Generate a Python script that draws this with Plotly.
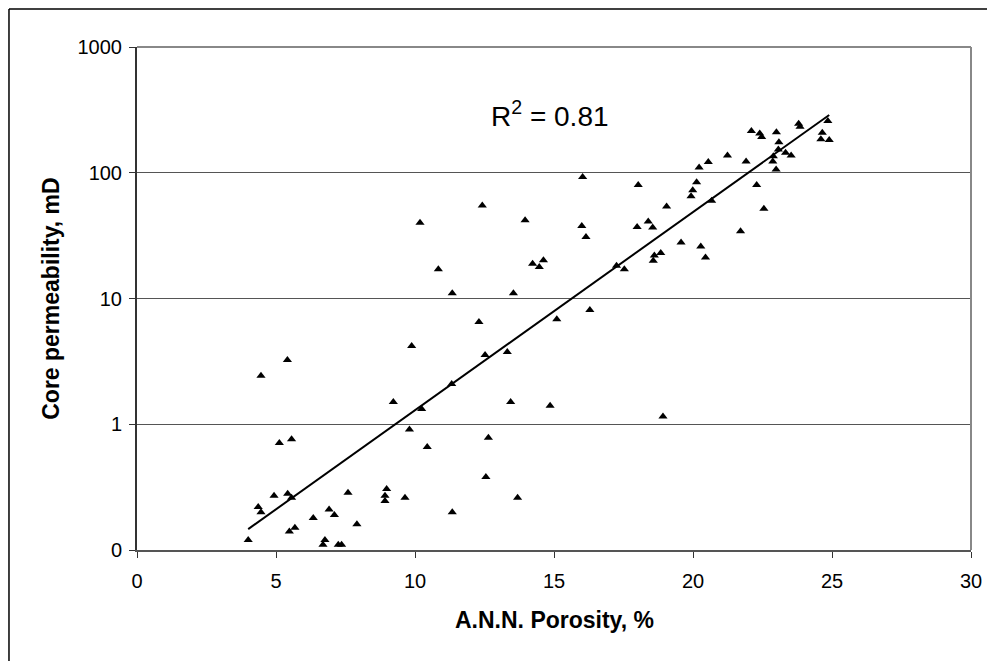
import numpy as np
import plotly.graph_objects as go

# A.N.N. porosity (%) and core permeability (mD)
porosity = [
    5.12, 5.56, 4.93, 5.42, 5.56, 4.36, 4.46, 4.00, 6.34, 5.48, 5.68, 6.76, 6.69,
    9.22, 10.24, 11.32, 13.44, 9.80, 10.44, 12.64, 12.55, 13.69, 7.59, 8.98, 8.92,
    8.92, 9.64, 11.34, 6.91, 7.10, 7.91, 7.24, 7.36,
    10.18, 9.88, 5.41, 4.46,
    16.03, 18.03, 12.42, 13.96, 16.00, 16.15, 17.99, 18.39, 18.55, 10.84, 14.23,
    14.47, 14.62, 17.25, 17.53, 11.34, 13.54, 16.29, 12.30, 15.10, 12.52, 13.32, 14.86,
    23.09, 24.60, 24.90, 23.07, 23.33, 23.53, 22.89, 22.87, 22.99, 20.22, 20.55,
    21.24, 21.91, 20.13, 19.99, 19.93, 22.29, 20.67, 19.05, 22.55, 21.71, 19.57,
    20.28, 18.84, 18.61, 18.57, 20.45,
    22.10, 22.40, 22.47, 23.00, 23.80, 23.85, 24.65, 24.85,
    18.92,
]
permeability = [
    0.71, 0.76, 0.27, 0.28, 0.26, 0.22, 0.20, 0.12, 0.18, 0.14, 0.15, 0.12, 0.11,
    1.50, 1.32, 2.09, 1.50, 0.91, 0.66, 0.78, 0.38, 0.26, 0.285, 0.305, 0.27,
    0.245, 0.26, 0.20, 0.21, 0.19, 0.16, 0.11, 0.11,
    40.0, 4.2, 3.25, 2.43,
    92.6, 80.0, 55.0, 42.0, 37.7, 30.9, 37.0, 41.0, 36.7, 17.1, 18.9,
    17.8, 20.1, 18.2, 17.1, 11.0, 11.0, 8.1, 6.5, 6.85, 3.56, 3.75, 1.40,
    175, 185, 182, 153, 144, 137, 135, 123, 106, 110, 122,
    137, 123, 84, 72.5, 65, 80, 60, 54, 51.8, 34.2, 27.9,
    25.9, 23.0, 22.0, 20.0, 21.2,
    215, 205, 192, 210, 245, 232, 208, 258,
    1.15,
]

x_ticks = [0, 5, 10, 15, 20, 25, 30]
y_tickvals = [0.1, 1, 10, 100, 1000]
y_ticktext = ["0", "1", "10", "100", "1000"]
r2_label = "R<sup>2</sup> = 0.81"
x_title = "<b>A.N.N. Porosity, %</b>"
y_title = "<b>Core permeability, mD</b>"

px = np.array(porosity)
py = np.array(permeability)
slope, intercept = np.polyfit(px, np.log10(py), 1)
trend_x = np.array([px.min(), px.max()])
trend_y = 10 ** (slope * trend_x + intercept)

FONT = "Liberation Sans, Arial, sans-serif"

fig = go.Figure()
fig.add_trace(go.Scatter(
    x=trend_x, y=trend_y, mode="lines",
    line=dict(color="black", width=2), showlegend=False, hoverinfo="skip"))
fig.add_trace(go.Scatter(
    x=porosity, y=permeability, mode="markers",
    marker=dict(symbol="triangle-up", size=8, color="black"),
    showlegend=False))

fig.update_layout(
    width=995, height=661,
    margin=dict(l=129, r=32, t=39, b=119, autoexpand=False),
    paper_bgcolor="white", plot_bgcolor="white",
    font=dict(family=FONT, size=20, color="black"),
    xaxis=dict(
        range=[0, 30], tickvals=x_ticks, showgrid=False, zeroline=False,
        showline=True, linecolor="#555555", linewidth=2,
        ticks="outside", ticklen=6, tickcolor="#333333", tickwidth=1,
        tickfont=dict(size=20), ticklabelstandoff=6,
    ),
    yaxis=dict(
        type="log", range=[-1, 3], tickvals=y_tickvals, ticktext=y_ticktext,
        showgrid=True, gridcolor="#555555", gridwidth=1, zeroline=False,
        showline=True, linecolor="#333333", linewidth=2,
        ticks="outside", ticklen=6, tickcolor="#333333", tickwidth=1,
        tickfont=dict(size=20), ticklabelstandoff=3,
    ),
    shapes=[
        # plot-area border (top and right)
        dict(type="line", xref="paper", yref="paper", x0=0, x1=1, y0=1, y1=1,
             line=dict(color="#888888", width=2), layer="above"),
        dict(type="line", xref="paper", yref="paper", x0=1, x1=1, y0=0, y1=1,
             line=dict(color="#888888", width=2), layer="above"),
        # chart-area border (left and top visible)
        dict(type="line", xref="paper", yref="paper", x0=-0.1535, x1=-0.1535,
             y0=-0.3, y1=1.0756, line=dict(color="black", width=1.5)),
        dict(type="line", xref="paper", yref="paper", x0=-0.1535, x1=1.1,
             y0=1.0756, y1=1.0756, line=dict(color="black", width=1.5)),
    ],
    annotations=[
        dict(text=r2_label, xref="paper", yref="paper", x=0.495, y=0.866,
             xanchor="center", yanchor="middle", showarrow=False,
             font=dict(size=28, family=FONT)),
        dict(text=x_title, xref="paper", yref="paper",
             x=0.5, y=-0.14, xanchor="center", yanchor="middle",
             showarrow=False, font=dict(size=23, family=FONT)),
        dict(text=y_title, xref="paper", yref="paper",
             x=-0.104, y=0.5, xanchor="center", yanchor="middle", textangle=-90,
             showarrow=False, font=dict(size=23, family=FONT)),
    ],
)

fig.write_html("out.html")
